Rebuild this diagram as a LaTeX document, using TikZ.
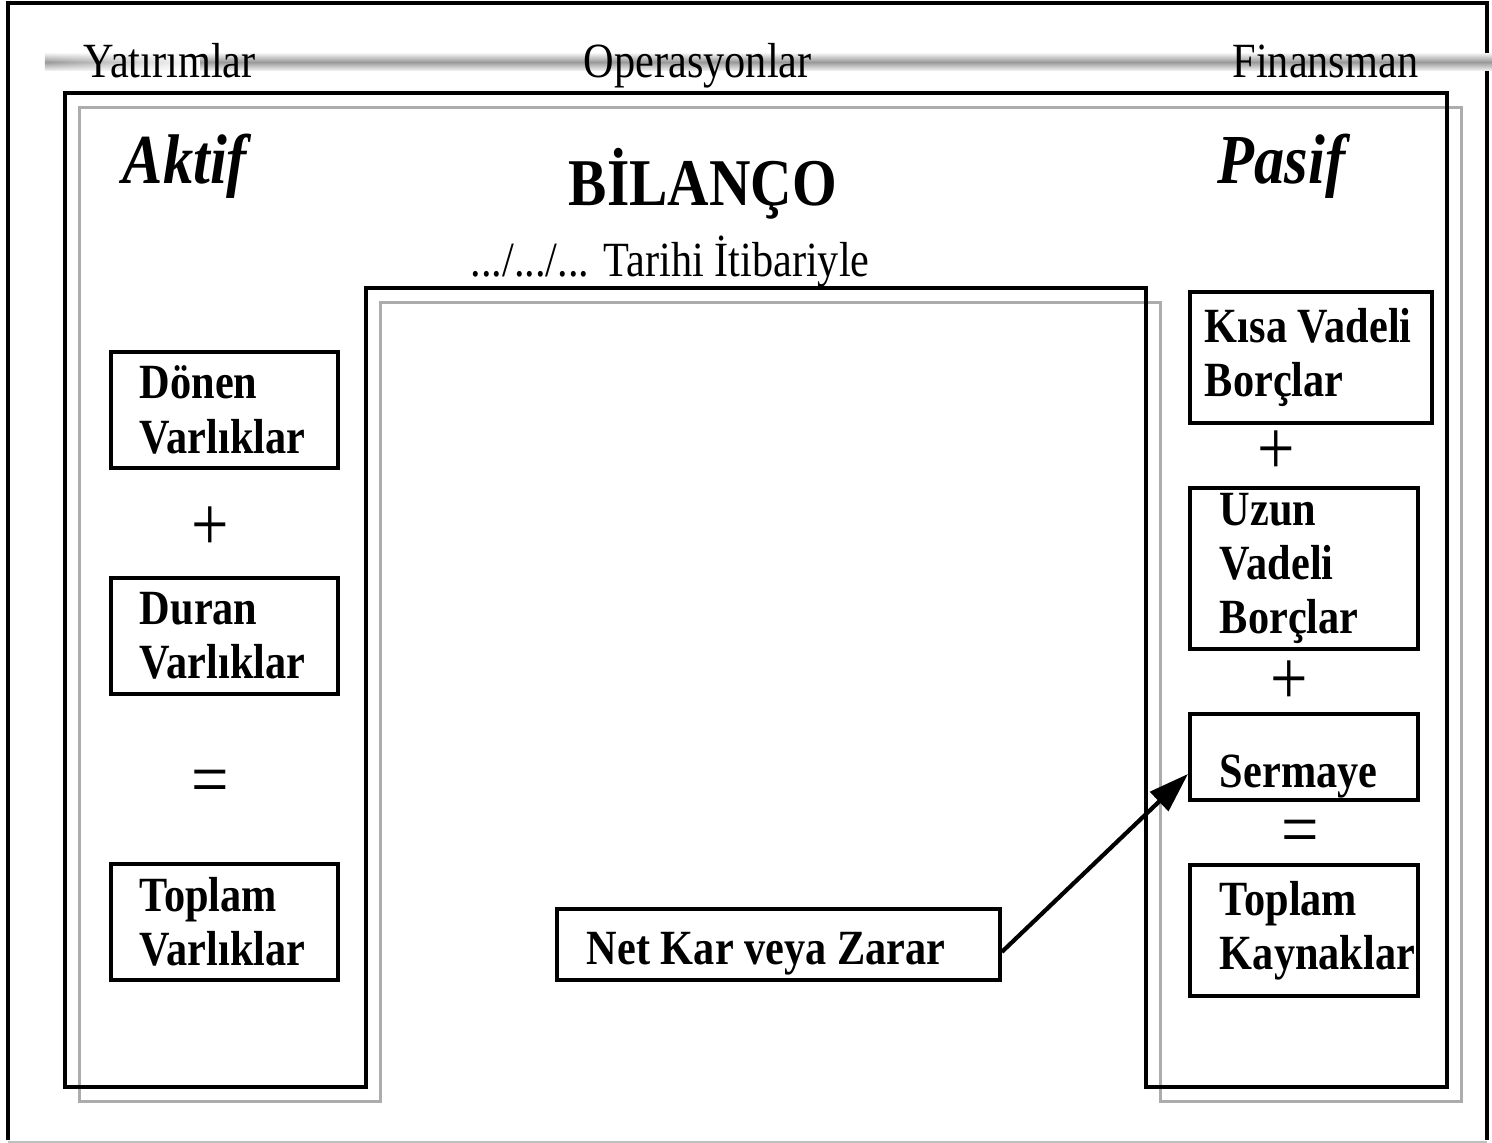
\documentclass[tikz,border=0pt]{standalone}
\usepackage{fontspec}
\setmainfont{Liberation Serif}[FakeStretch=0.86]
\usepackage{tikz}
\usetikzlibrary{arrows.meta,fadings}
\tikzset{
  acct/.style={draw,line width=1.1pt,anchor=north west,align=left,inner ysep=0pt,
    font=\bfseries\fontsize{14pt}{15.4pt}\selectfont,
    execute at begin node={\spaceskip=0pt\xspaceskip=0pt\relax}},
  lbox/.style={acct,inner xsep=0.29cm,text width=1.69cm,minimum height=1.16cm},
  rbox/.style={acct,inner xsep=0.30cm,text width=1.68cm},
  colhead/.style={font=\fontsize{14pt}{16pt}\selectfont,anchor=base west,inner sep=0pt},
  sidetitle/.style={font=\bfseries\itshape\fontsize{20pt}{24pt}\selectfont,
    anchor=base west,inner sep=0pt},
  opsign/.style={font=\fontsize{22pt}{24pt}\selectfont,inner sep=0pt},
  outerline/.style={line width=1.1pt},
  ushadow/.style={draw=gray!65,line width=0.9pt},
  arr/.style={-{Triangle[length=4mm,width=2.6mm]},line width=1.2pt}
}

\begin{document}
\begin{tikzpicture}
  \useasboundingbox (0,0) rectangle (14.92,-11.43);
  \fill[white] (0,0) rectangle (14.92,-11.43);
  % slide frame
  \draw[outerline] (0.08,-11.40) -- (0.08,-0.03) -- (14.87,-0.03) -- (14.87,-11.40);
  \draw[gray!50] (0.08,-11.42) -- (14.87,-11.42);
  % header bar
  \shade[top color=gray!15,bottom color=gray!15,middle color=gray!80]
    (2.0,-0.54) rectangle (14.92,-0.70);
  \shade[top color=gray!15,bottom color=gray!15,middle color=gray!80,path fading=east]
    (0.45,-0.54) rectangle (2.02,-0.70);
  \node[colhead] (yat) at (0.83,-0.78) {Yatırımlar};
  \node[colhead] (ops) at (5.83,-0.78) {Operasyonlar};
  \node[colhead,anchor=base east] (fin) at (14.19,-0.78) {Finansman};
  % U shaped outline with its grey copy
  \draw[ushadow] (0.795,-1.075) -- (14.615,-1.075) -- (14.615,-11.015) -- (11.605,-11.015)
    -- (11.605,-3.025) -- (3.805,-3.025) -- (3.805,-11.015) -- (0.795,-11.015) -- cycle;
  \draw[line width=0.9pt] (0.65,-0.93) -- (14.47,-0.93) -- (14.47,-10.87) -- (11.46,-10.87)
    -- (11.46,-2.88) -- (3.66,-2.88) -- (3.66,-10.87) -- (0.65,-10.87) -- cycle;
  \node[sidetitle] (aktif) at (1.22,-1.83) {Aktif};
  \node[sidetitle] (pasif) at (12.17,-1.83) {Pasif};
  \node[anchor=base west,inner sep=0pt,font=\bfseries\fontsize{19pt}{22pt}\selectfont]
    (bilanco) at (5.68,-2.05) {BİLANÇO};
  \node[colhead] (tarih) at (4.70,-2.76) {.../.../... Tarihi İtibariyle};
  % assets
  \node[lbox] (donen) at (1.09,-3.50) {Dönen\\Varlıklar};
  \node[opsign] (plusa) at (2.10,-5.29) {+};
  \node[lbox] (duran) at (1.09,-5.76) {Duran\\Varlıklar};
  \node[opsign] (eqa) at (2.10,-7.88) {=};
  \node[lbox] (topv) at (1.09,-8.62) {Toplam\\Varlıklar};
  % liabilities and equity
  \node[acct,inner xsep=0.15cm,text width=2.12cm,minimum height=1.31cm]
    (kisa) at (11.88,-2.90) {Kısa~Vadeli\\Borçlar};
  \node[opsign] (plusb) at (12.76,-4.53) {+};
  \node[rbox,minimum height=1.61cm] (uzun) at (11.88,-4.86) {Uzun\\Vadeli\\Borçlar};
  \node[opsign] (plusc) at (12.89,-6.83) {+};
  \node[rbox,text height=0.74cm,text depth=0.12cm] (sermaye) at (11.88,-7.12) {Sermaye};
  \node[opsign] (eqb) at (13.00,-8.38) {=};
  \node[rbox,minimum height=1.31cm] (topk) at (11.88,-8.63) {Toplam\\Kaynaklar};
  % period result
  \node[acct,inner xsep=0.30cm,text width=3.83cm,text height=0.56cm,text depth=0.15cm]
    (netkar) at (5.55,-9.07) {Net Kar veya Zarar};
  \draw[arr] ([yshift=-0.075cm]netkar.east) -- ([yshift=-0.17cm]sermaye.west);
\end{tikzpicture}
\end{document}
